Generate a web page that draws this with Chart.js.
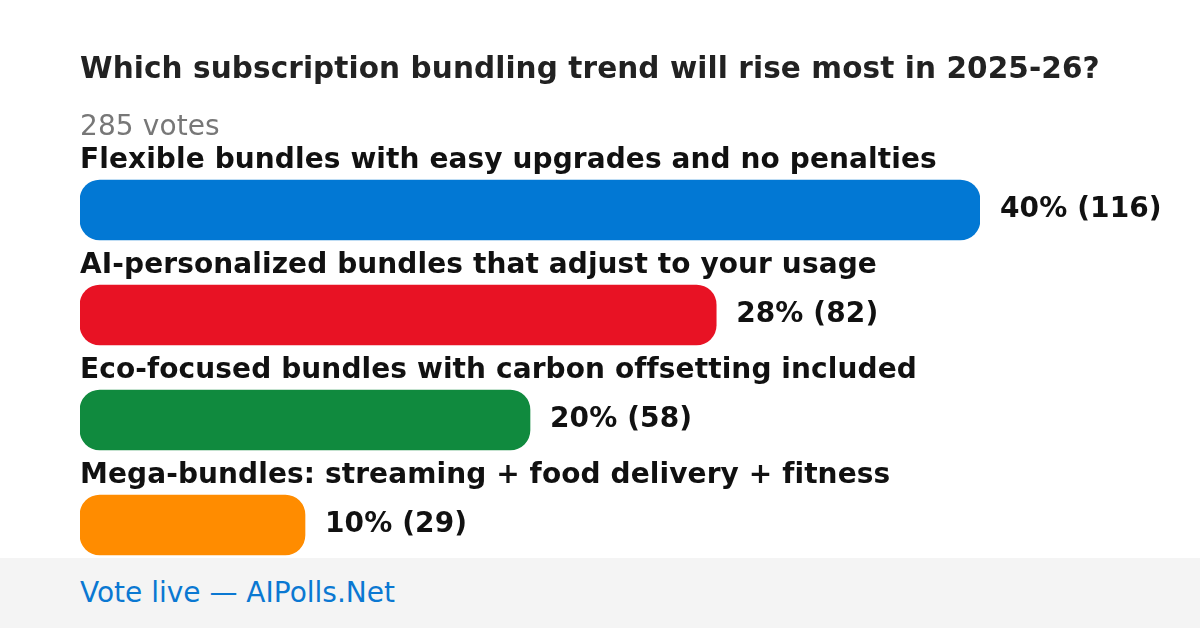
<!DOCTYPE html>
<html>
<head>
<meta charset="utf-8">
<script src="https://cdn.jsdelivr.net/npm/chart.js@4"></script>
<style>
  html, body { margin: 0; padding: 0; background: #fff; }
  #wrap { position: relative; width: 1200px; height: 628px; overflow: hidden; }
  #footer {
    position: absolute; left: 0; top: 558px; width: 1200px; height: 70px;
    background: #f4f4f4;
  }
  #footer span {
    position: absolute; left: 80px; top: 18px;
    font: 28px "DejaVu Sans", sans-serif; color: #0a78d2;
  }
</style>
</head>
<body>
<div id="wrap">
  <canvas id="pollChart" width="1200" height="628"></canvas>
  <div id="footer"><span>Vote live — AIPolls.Net</span></div>
</div>
<script>
// Poll data
const pollTitle = 'Which subscription bundling trend will rise most in 2025-26?';
const totalVotes = 285;
const options = [
    'Flexible bundles with easy upgrades and no penalties',
    'AI-personalized bundles that adjust to your usage',
    'Eco-focused bundles with carbon offsetting included',
    'Mega-bundles: streaming + food delivery + fitness'
];
const votes = [116, 82, 58, 29];
const percents = [40, 28, 20, 10];
const barColors = ['#0278d4', '#e81224', '#108a3e', '#ff8c00'];

// Plugin to write title, vote count, option labels and values
const pollText = {
    id: 'pollText',
    afterDatasetsDraw(chart) {
        const ctx = chart.ctx;
        ctx.save();
        ctx.textAlign = 'left';
        ctx.textBaseline = 'alphabetic';
        // tiny spacing keeps "fi" from turning into a ligature
        ctx.letterSpacing = '0.1px';

        // Title
        ctx.fillStyle = '#222222';
        ctx.font = 'bold 29.5px "DejaVu Sans"';
        ctx.fillText(pollTitle, 80, 78);

        // Vote count
        ctx.fillStyle = '#777777';
        ctx.font = '28px "DejaVu Sans"';
        ctx.fillText(`${totalVotes} votes`, 80, 135);

        // Option labels above bars, values right of bars
        const meta = chart.getDatasetMeta(0);
        meta.data.forEach((bar, i) => {
            const top = bar.y - bar.height / 2;
            ctx.fillStyle = '#111111';
            ctx.font = 'bold 28px "DejaVu Sans"';
            ctx.textBaseline = 'alphabetic';
            ctx.fillText(options[i], 80, top - 12);

            ctx.textBaseline = 'middle';
            ctx.fillText(`${percents[i]}% (${votes[i]})`, bar.x + 20, bar.y);
        });
        ctx.restore();
    }
};

const ctx = document.getElementById('pollChart');

new Chart(ctx, {
    type: 'bar',
    data: {
        labels: options,
        datasets: [{
            data: votes,
            backgroundColor: barColors,
            borderRadius: 20,
            borderSkipped: false,
            barThickness: 60
        }]
    },
    options: {
        indexAxis: 'y',
        responsive: false,
        animation: false,
        layout: {
            padding: { left: 80, right: 220, top: 157.5, bottom: 50.5 }
        },
        plugins: {
            legend: { display: false },
            tooltip: { enabled: false }
        },
        scales: {
            x: { display: false, min: 0, max: 116 },
            y: { display: false }
        }
    },
    plugins: [pollText]
});
</script>
</body>
</html>
